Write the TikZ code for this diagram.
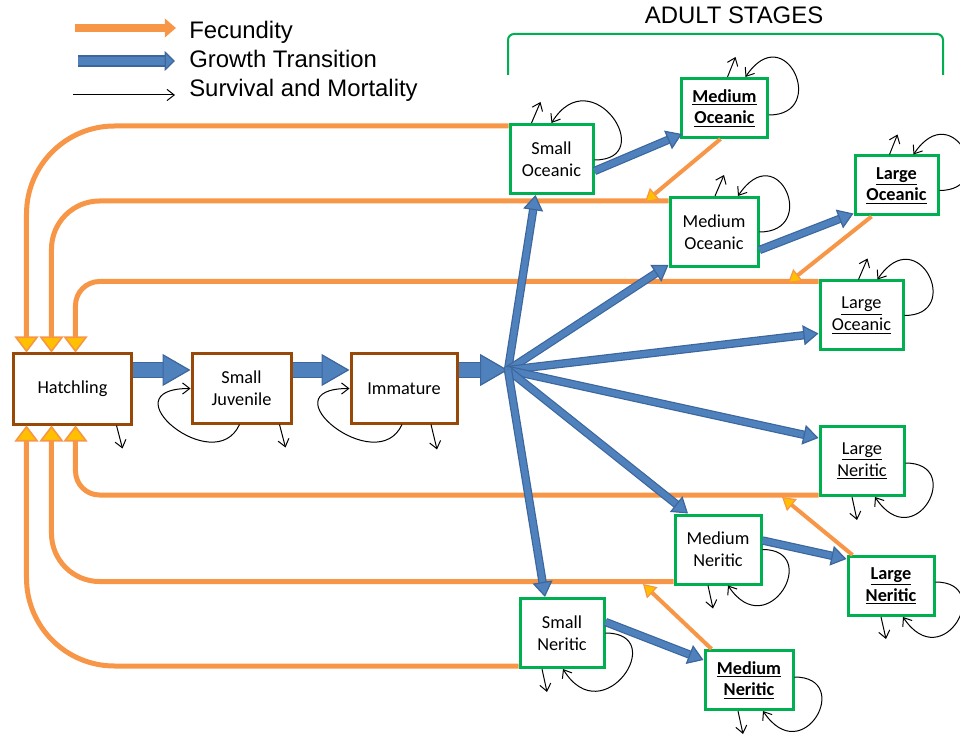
\documentclass[tikz,border=0pt]{standalone}
\usepackage{fontspec}
\setmainfont{Carlito}
\newfontfamily\arialfont{Liberation Sans}
\usepackage{tikz}
\usetikzlibrary{arrows.meta,calc}
\definecolor{Brown}{HTML}{984807}
\definecolor{Green}{HTML}{00B050}
\definecolor{Fec}{HTML}{F79646}
\definecolor{FecTip}{HTML}{FFC000}
\definecolor{Grow}{HTML}{4F81BD}
\definecolor{GrowDark}{HTML}{3C669C}
\tikzset{
  juv/.style={draw=Brown,line width=0.75mm,fill=white,minimum height=17.5mm,align=center,font=\fontsize{13}{15.5}\selectfont},
  adult/.style={draw=Green,line width=0.75mm,fill=white,minimum width=21.5mm,minimum height=17.25mm,align=center,font=\fontsize{13}{15.5}\selectfont},
  adultbold/.style={adult,minimum height=14.75mm},
  fec/.style={draw=Fec,line width=1.25mm},
  fecin/.style={fec,-{Triangle[length=4mm,width=6mm,fill=FecTip,line width=0.4mm]}},
  fecdiag/.style={draw=Fec,line width=1mm,-{Triangle[length=3.2mm,width=3.8mm,fill=FecTip,line width=0.3mm]}},
  growth/.style={draw=GrowDark,double=Grow,double distance=1.5mm,line width=0.3mm,-{Triangle[length=3.8mm,width=5mm,fill=Grow,line width=0.3mm]}},
  bigarrow/.style={draw=GrowDark,double=Grow,double distance=3.3mm,line width=0.3mm,-{Triangle[length=7mm,width=8mm,fill=Grow,line width=0.3mm]}},
  surv/.style={draw=black,line width=0.25mm,-{Straight Barb[length=1.8mm,width=2.8mm]}},
  legend/.style={anchor=base west,inner sep=0pt,font=\arialfont\fontsize{17}{20}\selectfont}
}
\begin{document}
\begin{tikzpicture}[x=0.25mm,y=-0.25mm]
  \useasboundingbox (0,0) rectangle (960,736);
  \node[juv,minimum width=29.25mm] (hat) at (72.5,389) {Hatchling};
  \node[juv,minimum width=24.75mm,minimum height=17.25mm] (sj) at (241.5,388.5) {Small\\Juvenile};
  \node[juv,minimum width=26.5mm,minimum height=17.25mm] (imm) at (404,388.5) {Immature};
  \coordinate (hub) at (508,370);
  \node[adult,minimum width=20.75mm] (so) at (551.5,159) {Small\\Oceanic};
  \node[adultbold] (moB) at (724.5,108) {\textbf{\underline{Medium}}\\\textbf{\underline{Oceanic}}};
  \node[adult,minimum width=22mm] (moP) at (714,232) {Medium\\Oceanic};
  \node[adultbold,minimum width=20.75mm] (loB) at (896.5,185.5) {\textbf{\underline{Large}}\\\textbf{\underline{Oceanic}}};
  \node[adult,minimum width=20.75mm] (loP) at (861.5,315.5) {\underline{Large}\\\underline{Oceanic}};
  \node[adult,minimum width=21mm] (lnP) at (862,461) {\underline{Large}\\\underline{Neritic}};
  \node[adult] (mnP) at (718,549.5) {Medium\\Neritic};
  \node[adultbold] (lnB) at (891,586) {\textbf{\underline{Large}}\\\textbf{\underline{Neritic}}};
  \node[adult,minimum width=21mm] (snP) at (562,633) {Small\\Neritic};
  \node[adultbold,minimum width=22mm] (mnB) at (749,680) {\textbf{\underline{Medium}}\\\textbf{\underline{Neritic}}};

  \draw[fecin,rounded corners=22mm] ($(so.north west)+(0,3)$) -| ($(hat.north west)+(14,0)$);
  \draw[fecin,rounded corners=12mm] ($(moP.north west)+(0,5)$) -| ($(hat.north west)+(39,0)$);
  \draw[fecin,rounded corners=6mm] ($(loP.north west)+(0,2)$) -| ($(hat.north west)+(63,0)$);
  \draw[fecin,rounded corners=6mm] ($(lnP.south west)+(0,-2)$) -| ($(hat.south west)+(63,0)$);
  \draw[fecin,rounded corners=12mm] ($(mnP.south west)+(0,-4)$) -| ($(hat.south west)+(39,0)$);
  \draw[fecin,rounded corners=22mm] ($(snP.south west)+(0,-3)$) -| ($(hat.south west)+(14,0)$);
  \coordinate (f2) at (645,202);
  \coordinate (f3) at (788,283);
  \coordinate (f4) at (782,497);
  \coordinate (f5) at (643,584);
  \draw[fecdiag] ($(moB.south)+(-4,0)$) -- (f2);
  \draw[fecdiag] ($(loB.south)+(-25,0)$) -- (f3);
  \draw[fecdiag] ($(lnB.north west)+(6,0)$) -- (f4);
  \draw[fecdiag] ($(mnB.north west)+(8,0)$) -- (f5);

  \draw[bigarrow] (hat.east |- hub) -- (sj.west |- hub);
  \draw[bigarrow] (sj.east |- hub) -- (imm.west |- hub);
  \draw[bigarrow] (imm.east |- hub) -- (hub);
  \draw[growth] (hub) -- ($(so.south)+(-16,0)$);
  \draw[growth] (hub) -- ($(moP.south west)+(0,-3)$);
  \draw[growth] (hub) -- ($(loP.west)+(0,18)$);
  \draw[growth] (hub) -- ($(lnP.west)+(0,-23)$);
  \draw[growth] (hub) -- ($(mnP.north)+(-30,0)$);
  \draw[growth] (hub) -- ($(snP.north)+(-17,0)$);
  \draw[growth] ($(so.east)+(0,12)$) -- ($(moB.south west)+(2,-5)$);
  \draw[growth] ($(moP.east)+(0,18)$) -- ($(loB.south west)+(0,-3)$);
  \draw[growth] ($(mnP.east)+(0,-9)$) -- ($(lnB.north west)+(0,4)$);
  \draw[growth] ($(snP.east)+(0,-11)$) -- ($(mnB.west)+(0,-20)$);

  \draw[surv] ($(hat.south)+(44,0)$) -- +(6,23);
  \draw[surv] ($(sj.south)+(38,0)$) -- +(6,23);
  \draw[surv] ($(imm.south)+(27,0)$) -- +(6,25);
  \draw[surv] ($(sj.south)+(-2,0)$) .. controls +(-25,55) and +(-85,0) .. (sj.west);
  \draw[surv] ($(imm.south)+(-2,0)$) .. controls +(-25,55) and +(-85,0) .. (imm.west);

  \draw[surv] ($(so.north)+(-20,0)$) -- +(9,-21);
  \draw[surv] ($(so.east)+(0,1)$) .. controls +(65,0) and +(40,-65) .. (so.north);
  \draw[surv] ($(moB.north)+(3,0)$) -- +(8,-20);
  \draw[surv] ($(moB.east)+(0,7)$) .. controls +(60,0) and +(40,-60) .. ($(moB.north)+(21,0)$);
  \draw[surv] ($(moP.north)+(1,0)$) -- +(9,-21);
  \draw[surv] (moP.east) .. controls +(60,0) and +(40,-60) .. ($(moP.north)+(24,0)$);
  \draw[surv] ($(loB.north)+(-7,0)$) -- +(8,-20);
  \draw[surv] ($(loB.east)+(0,5)$) .. controls +(60,0) and +(40,-60) .. ($(loB.north)+(17,0)$);
  \draw[surv] ($(loP.north)+(-3,0)$) -- +(9,-21);
  \draw[surv] (loP.east) .. controls +(60,0) and +(40,-60) .. ($(loP.north)+(16,0)$);

  \draw[surv] ($(lnP.south)+(-10,0)$) -- +(5,23);
  \draw[surv] ($(lnP.east)+(0,2)$) .. controls +(60,0) and +(40,60) .. ($(lnP.south)+(13,0)$);
  \draw[surv] ($(mnP.south)+(-10,0)$) -- +(5,23);
  \draw[surv] (mnP.east) .. controls +(60,0) and +(40,60) .. ($(mnP.south)+(10,0)$);
  \draw[surv] ($(lnB.south)+(-10,0)$) -- +(5,22);
  \draw[surv] ($(lnB.east)+(0,-4)$) .. controls +(60,0) and +(40,60) .. ($(lnB.south)+(12,0)$);
  \draw[surv] ($(snP.south)+(-20,0)$) -- +(5,23);
  \draw[surv] (snP.east) .. controls +(65,0) and +(40,65) .. ($(snP.south)+(1,0)$);
  \draw[surv] ($(mnB.south)+(-11,0)$) -- +(5,23);
  \draw[surv] ($(mnB.east)+(0,-3)$) .. controls +(60,0) and +(40,60) .. ($(mnB.south)+(14,0)$);

  \node[legend] (lfec) at (189,39) {Fecundity};
  \node[legend] (lgrow) at (189,68) {Growth Transition};
  \node[legend] (lsurv) at (189,97) {Survival and Mortality};
  \coordinate (kfec) at (75,28);
  \coordinate (kgrow) at (78,61);
  \coordinate (ksurv) at (73,95);
  \draw[draw=Fec,line width=2mm,-{Triangle[length=2.8mm,width=4.6mm,fill=Fec]}] (kfec) -- ($(kfec -| lfec.west)+(-13,0)$);
  \draw[growth,double distance=2.2mm,-{Triangle[length=2.6mm,width=5mm,fill=Grow,line width=0.3mm]}] (kgrow) -- ($(kgrow -| lgrow.west)+(-14,0)$);
  \draw[surv] (ksurv) -- ($(ksurv -| lsurv.west)+(-14,0)$);

  \node[font=\arialfont\fontsize{17}{20}\selectfont,anchor=base] (adult) at (734,24) {ADULT STAGES};
  \draw[Green,line width=0.5mm,rounded corners=1.5mm] (508,75) |- (adult.south |- 0,34) -| (943,75);
\end{tikzpicture}
\end{document}
